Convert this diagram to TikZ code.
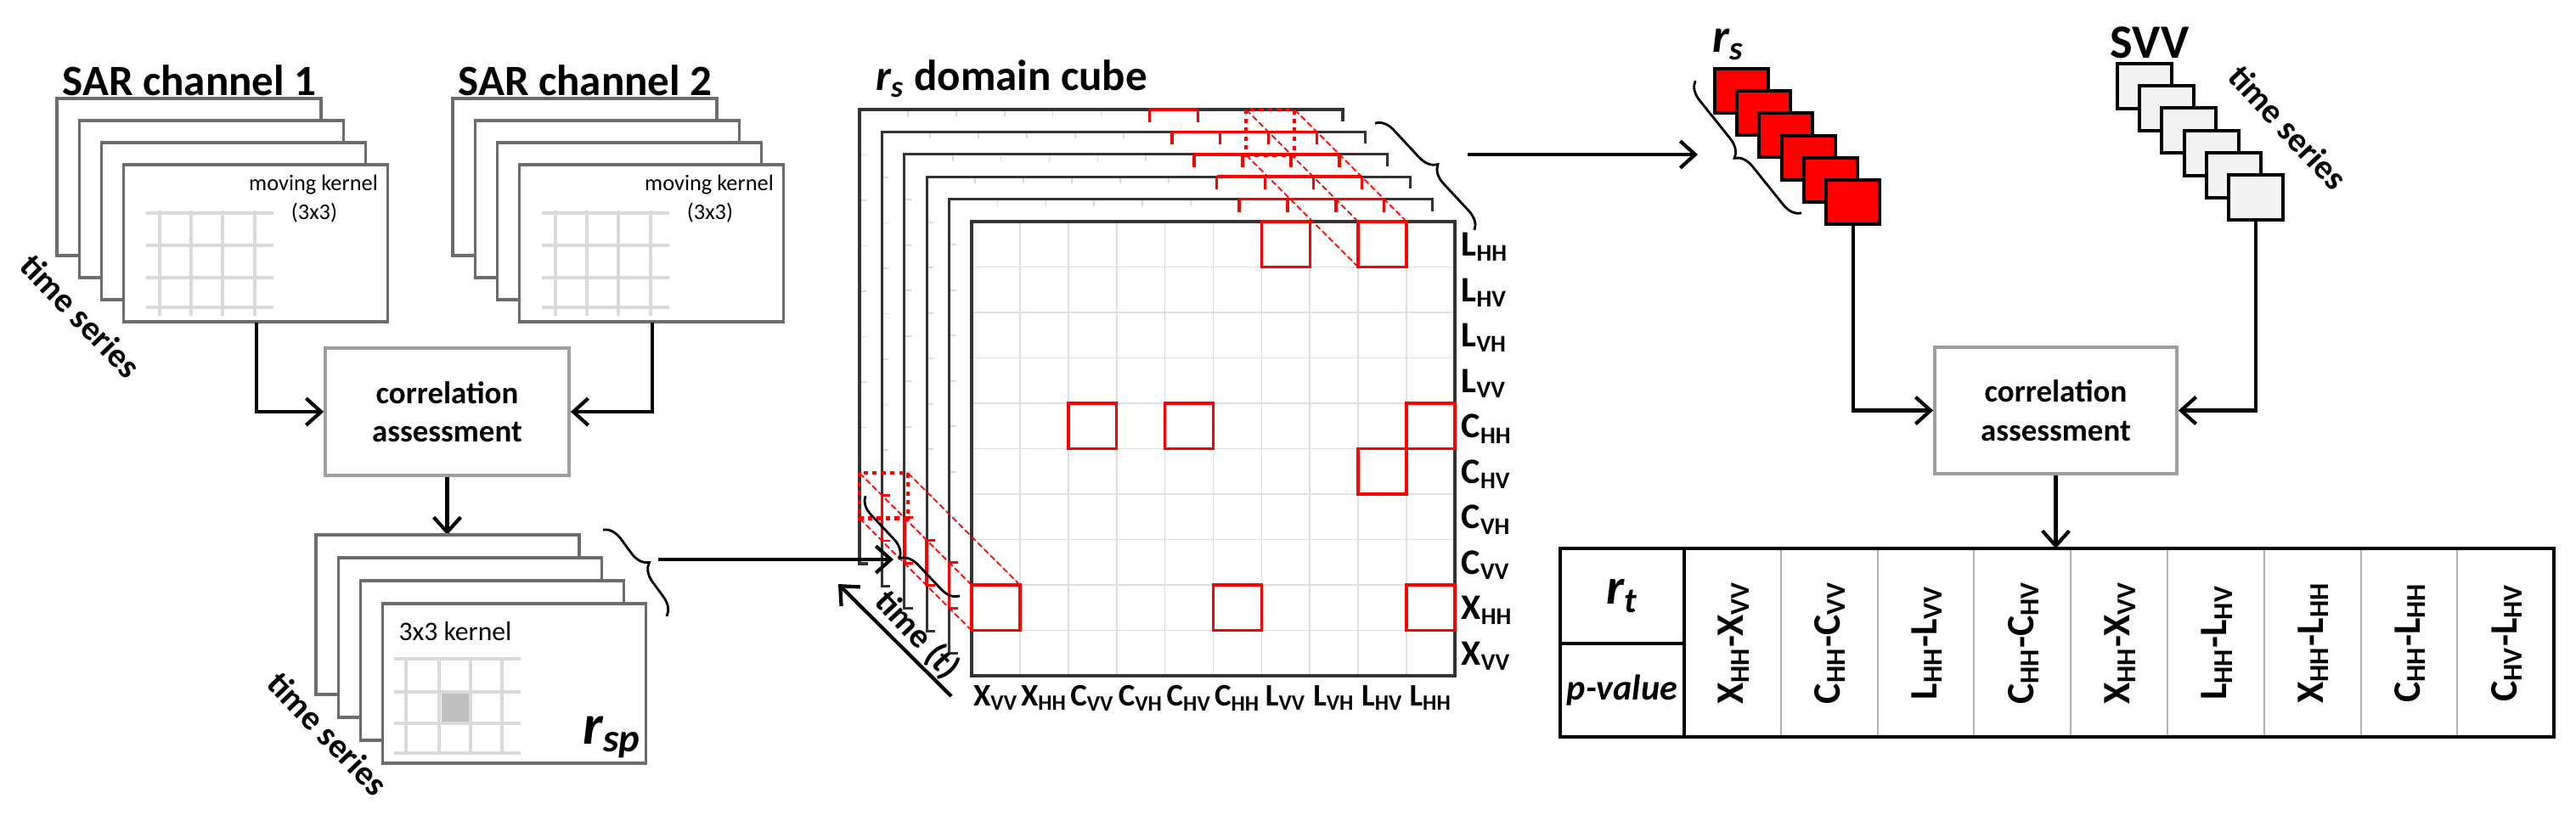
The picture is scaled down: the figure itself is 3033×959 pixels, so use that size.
\documentclass[tikz,border=0pt]{standalone}
\usepackage{fontspec}
\setmainfont{Carlito}
\usetikzlibrary{arrows.meta,decorations.pathreplacing}
\begin{document}
\begin{tikzpicture}[x=0.01cm,y=-0.01cm,
  gframe/.style={draw=gray!85!black,line width=0.9pt,fill=white},
  kgrid/.style={draw=gray!30,line width=1.3pt},
  arr/.style={line width=1.2pt,-{Straight Barb[length=5pt,width=9pt]}},
  cbox/.style={draw=gray!75,line width=1pt,fill=white,minimum width=2.87cm,minimum height=1.5cm,inner sep=0pt,font=\bfseries\fontsize{10.5}{13}\selectfont,align=center},
  ttl/.style={font=\bfseries\fontsize{14.5}{16}\selectfont},
  tser/.style={font=\bfseries\fontsize{11.5}{14}\selectfont},
  lab/.style={font=\bfseries\fontsize{12}{14}\selectfont,inner sep=0pt},
  clab/.style={font=\bfseries\fontsize{10.5}{12}\selectfont,inner sep=0pt},
  brc/.style={decorate,decoration={brace,amplitude=6pt},line width=0.8pt},
  redsq/.style={draw=red,line width=1pt},
  reddash/.style={draw=red,line width=0.5pt,dash pattern=on 2pt off 1pt},
  reddot/.style={draw=red,line width=1.2pt,dash pattern=on 1.5pt off 1.5pt},
  dk/.style={draw=black!80,line width=0.9pt}]
\useasboundingbox (0,0) rectangle (3033,959);
% ---------- SAR channel stacks
\foreach \dx/\t in {0/1,466/2}{
  \node[ttl] (sar\t) at (223+\dx,95) {SAR channel \t};
  \foreach \k in {0,...,3}
    \draw[gframe] (67+\dx+26.3*\k,116+26*\k) rectangle ++(311,185);
  \foreach \xx in {188,225,262,300} \draw[kgrid] (\xx+\dx,248) -- (\xx+\dx,372);
  \foreach \yy in {251,289,327,362} \draw[kgrid] (172+\dx,\yy) -- (322+\dx,\yy);
  \node[font=\fontsize{7.5}{9}\selectfont] (mk\t) at (369+\dx,218) {moving kernel};
  \node[font=\fontsize{7.5}{9}\selectfont] (mkb\t) at (370+\dx,251) {(3x3)};
}
\node[tser,rotate=-46] (ts1) at (95,372) {time series};
\coordinate (s1) at (302,380);
\coordinate (s2) at (768,380);
\node[cbox] (ca1) at (526.5,485) {correlation\\assessment};
\draw[arr] (s1) |- (ca1.west);
\draw[arr] (s2) |- (ca1.east);
% ---------- r_sp stack
\coordinate (rsptop) at (526.5,630);
\draw[arr] (ca1.south) -- (rsptop);
\foreach \k in {0,...,3}
  \draw[gframe] (372+26.3*\k,630+27*\k) rectangle ++(310,188);
\fill[gray!50] (520,816) rectangle (552,850);
\foreach \xx in {478,517,554,591} \draw[kgrid] (\xx,774) -- (\xx,887);
\foreach \yy in {776,815,852,887} \draw[kgrid] (464,\yy) -- (613,\yy);
\node[font=\fontsize{9}{11}\selectfont] (kk) at (536,744) {3x3 kernel};
\node[font=\bfseries\itshape\fontsize{19}{20}\selectfont] (rsp) at (721,868) {r\textsubscript{sp}};
\node[tser,rotate=-46] (ts2) at (386,864) {time series};
\draw[brc] (710,624) -- (785,726);
\coordinate (b1) at (775,659);
% ---------- cube
\node[ttl] (cubet) at (1191,93) {\itshape r\textsubscript{s}\upshape\ domain cube};
\foreach \k in {5,...,1}{
  \pgfmathsetmacro{\xo}{1144-26.4*\k}
  \pgfmathsetmacro{\yo}{261-26.4*\k}
  \fill[white] (\xo,\yo) rectangle ++(569,535);
  \foreach \j in {1,...,9} \draw[gray!30,line width=0.5pt] (\xo+\j*56.9,\yo) -- ++(0,8);
  \foreach \i in {1,...,9} \draw[gray!30,line width=0.5pt] (\xo,\yo+\i*53.5) -- ++(8,0);
  \draw[dk] (\xo+569,\yo+14) -- (\xo+569,\yo) -- (\xo,\yo) -- (\xo,\yo+535) -- ++(10,0);
}
% front matrix
\fill[white] (1144,261) rectangle (1713,796);
\foreach \j in {1,...,9} \draw[gray!25,line width=0.5pt] (1144+\j*56.9,261) -- (1144+\j*56.9,796);
\foreach \i in {1,...,9} \draw[gray!25,line width=0.5pt] (1144,261+\i*53.5) -- (1713,261+\i*53.5);
\draw[black!80,line width=1.1pt] (1144,261) rectangle (1713,796);
% red cells
\foreach \j/\i in {6/0,8/0,2/4,4/4,9/4,8/5,0/8,5/8,9/8}
  \draw[redsq] (1144+\j*56.9,261+\i*53.5) rectangle ++(56.9,53.5);
% red edges on back frames
\foreach \k in {1,...,4}{
  \pgfmathsetmacro{\xo}{1144-26.4*\k}
  \pgfmathsetmacro{\yo}{261-26.4*\k}
  \draw[red,line width=1pt] (\xo+6*56.9,\yo) -- (\xo+9*56.9,\yo);
  \foreach \j in {6,...,9} \draw[red,line width=1pt] (\xo+\j*56.9,\yo) -- ++(0,15);
  \draw[red,line width=1pt] (\xo,\yo+8*53.5) -- (\xo,\yo+9*53.5);
  \foreach \i in {8,9} \draw[red,line width=0.8pt] (\xo,\yo+\i*53.5) -- ++(10,0);
}
\draw[red,line width=1pt] (1012+6*56.9,129) -- (1012+7*56.9,129);
\foreach \j in {6,7} \draw[red,line width=1pt] (1012+\j*56.9,129) -- ++(0,15);
\draw[reddot] (1012+8*56.9,129) rectangle ++(56.9,53.5);
\draw[reddot] (1012,129+8*53.5) rectangle ++(56.9,53.5);
% prism diagonals
\foreach \ax/\ay in {0/0,1/0,0/1}{
  \draw[reddash] (1144+8*56.9+\ax*56.9,261+\ay*53.5) -- (1012+8*56.9+\ax*56.9,129+\ay*53.5);
  \draw[reddash] (1144+\ax*56.9,261+8*53.5+\ay*53.5) -- (1012+\ax*56.9,129+8*53.5+\ay*53.5);
}
% labels
\foreach \t [count=\i from 0] in {L\textsubscript{HH},L\textsubscript{HV},L\textsubscript{VH},L\textsubscript{VV},C\textsubscript{HH},C\textsubscript{HV},C\textsubscript{VH},C\textsubscript{VV},X\textsubscript{HH},X\textsubscript{VV}}
  \node[lab,anchor=west] (rl\i) at (1720,261+\i*53.5+30) {\t};
\foreach \t [count=\j from 0] in {X\textsubscript{VV},X\textsubscript{HH},C\textsubscript{VV},C\textsubscript{VH},C\textsubscript{HV},C\textsubscript{HH},L\textsubscript{VV},L\textsubscript{VH},L\textsubscript{HV},L\textsubscript{HH}}
  \node[clab] (cl\j) at (1144+\j*56.9+28.5,822) {\t};
% braces and arrows at cube
\draw[brc] (1130,702) -- (1019,584);
\coordinate (b2) at (1052,659);
\draw[arr] (b1) -- (b2);
\coordinate (ta) at (1120,820);
\coordinate (tb) at (987,688);
\draw[arr] (ta) -- (tb);
\node[tser,rotate=-47] (tt) at (1080,748) {time (t)};
\draw[brc] (1619,145) -- (1736,271);
\coordinate (b3) at (1728,182);
% ---------- r_s stack
\node[font=\bfseries\itshape\fontsize{16}{18}\selectfont] (rs) at (2035,52) {r\textsubscript{s}};
\foreach \k in {0,...,5}
  \draw[fill=red,draw=black,line width=1.1pt] (2019+26.2*\k,81+26.2*\k) rectangle ++(63,52);
\draw[brc] (2121,251) -- (1996,95);
\coordinate (b4) at (1999,182);
\draw[arr] (b3) -- (b4);
% ---------- SVV stack
\node[ttl,font=\bfseries\fontsize{16}{18}\selectfont] (svv) at (2531,50) {SVV};
\foreach \k in {0,...,5}
  \draw[fill=gray!10,draw=black,line width=1.1pt] (2493+26.2*\k,75+26.2*\k) rectangle ++(64,53);
\node[tser,rotate=-47] (ts3) at (2694,150) {time series};
% ---------- second correlation
\node[cbox,minimum width=2.85cm,minimum height=1.49cm] (ca2) at (2420.5,483.5) {correlation\\assessment};
\coordinate (r1) at (2182,265);
\coordinate (r2) at (2656,260);
\draw[arr] (r1) |- (ca2.west);
\draw[arr] (r2) |- (ca2.east);
\coordinate (tabtop) at (2420.5,646);
\draw[arr] (ca2.south) -- (tabtop);
% ---------- table
\foreach \i in {1,...,8} \draw[gray!60,line width=0.6pt] (1983+\i*113.8,646) -- (1983+\i*113.8,868);
\draw[line width=1.3pt] (1837,646) rectangle (3007,868);
\draw[line width=1.3pt] (1983,646) -- (1983,868);
\draw[line width=1.3pt] (1837,758) -- (1983,758);
\node[font=\bfseries\itshape\fontsize{17}{18}\selectfont] (rt) at (1910,702) {r\textsubscript{t}};
\node[font=\bfseries\itshape\fontsize{12}{14}\selectfont] (pv) at (1910,813) {p-value};
\foreach \t [count=\i from 0] in {X\textsubscript{HH}-X\textsubscript{VV},C\textsubscript{HH}-C\textsubscript{VV},L\textsubscript{HH}-L\textsubscript{VV},C\textsubscript{HH}-C\textsubscript{HV},X\textsubscript{HH}-X\textsubscript{VV},L\textsubscript{HH}-L\textsubscript{HV},X\textsubscript{HH}-L\textsubscript{HH},C\textsubscript{HH}-L\textsubscript{HH},C\textsubscript{HV}-L\textsubscript{HV}}
  \node[font=\bfseries\fontsize{13}{14}\selectfont,rotate=90,inner sep=0pt] (tc\i) at (1983+\i*113.8+58,757) {\t};
\end{tikzpicture}
\end{document}
